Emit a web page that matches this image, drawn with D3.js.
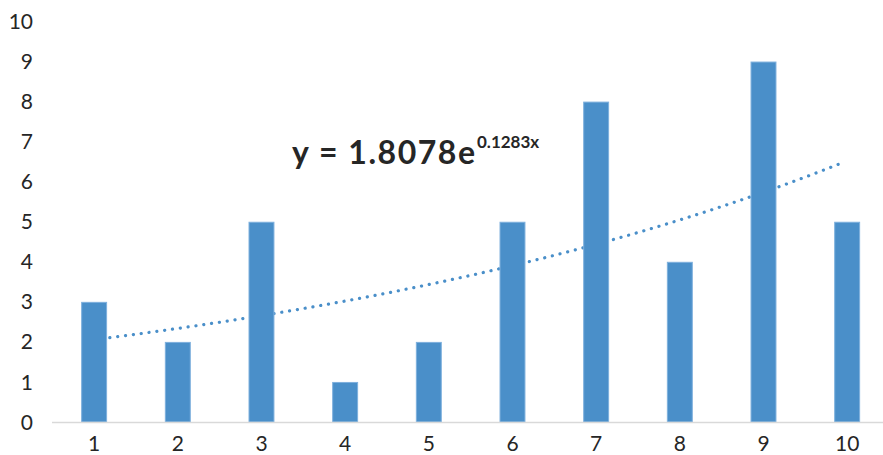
<!DOCTYPE html>
<html>
<head>
<meta charset="utf-8">
<script src="https://cdn.jsdelivr.net/npm/d3@7"></script>
<style>
  html, body { margin: 0; padding: 0; background: #fff; }
  svg { display: block; }
</style>
</head>
<body>
<svg id="chart" width="883" height="455"></svg>
<script>
// Category labels and bar heights
const categories = [1, 2, 3, 4, 5, 6, 7, 8, 9, 10];
const values = [3, 2, 5, 1, 2, 5, 8, 4, 9, 5];
const yTicks = [0, 1, 2, 3, 4, 5, 6, 7, 8, 9, 10];

// Exponential trendline y = a * e^(b x)
const trendA = 1.8078;
const trendB = 0.1283;
const trendLabel = "y = 1.8078e";
const trendExpLabel = "0.1283x";

const svg = d3.select("#chart");
const barColor = "#4a8fc9";
const font = "Lato, 'Open Sans', sans-serif";

const x = d3.scaleBand()
  .domain(categories)
  .range([52.3, 889])
  .paddingInner(0.69)
  .paddingOuter(0.345);

const y = d3.scaleLinear().domain([0, 10]).range([422, 21.5]);

// Y tick labels (no axis line, no gridlines)
svg.append("g")
  .selectAll("text")
  .data(yTicks)
  .join("text")
  .attr("x", 33)
  .attr("y", d => y(d))
  .attr("dy", "0.36em")
  .attr("text-anchor", "end")
  .attr("font-family", font)
  .attr("font-size", 21)
  .attr("fill", "#262626")
  .text(d => d);

// Trendline, drawn beneath the bars
const trendPts = d3.range(1, 9.95, 0.05).map(t => [t, trendA * Math.exp(trendB * t)]);
const xc = t => x(1) + x.bandwidth() / 2 + (t - 1) * x.step();
svg.append("path")
  .datum(trendPts)
  .attr("d", d3.line().x(d => xc(d[0])).y(d => y(d[1])))
  .attr("fill", "none")
  .attr("stroke", barColor)
  .attr("stroke-width", 3.2)
  .attr("stroke-linecap", "round")
  .attr("stroke-dasharray", "0.1 7.8");

// Bars
svg.append("g")
  .selectAll("rect")
  .data(categories)
  .join("rect")
  .attr("x", (d) => x(d) + 0.5)
  .attr("y", (d, i) => y(values[i]) + 0.5)
  .attr("width", x.bandwidth() - 1)
  .attr("height", (d, i) => y(0) - y(values[i]) - 0.5)
  .attr("fill", barColor)
  .attr("stroke", "#7eb0dd")
  .attr("stroke-width", 1);

// X axis baseline
svg.append("line")
  .attr("x1", 52).attr("x2", 883)
  .attr("y1", y(0) + 0.5).attr("y2", y(0) + 0.5)
  .attr("stroke", "#d9d9d9")
  .attr("stroke-width", 1.5);

// X tick labels
svg.append("g")
  .selectAll("text")
  .data(categories)
  .join("text")
  .attr("x", d => x(d) + x.bandwidth() / 2)
  .attr("y", 451)
  .attr("text-anchor", "middle")
  .attr("font-family", font)
  .attr("font-size", 21)
  .attr("fill", "#262626")
  .text(d => d);

// Trendline equation
svg.append("text")
  .attr("x", 292)
  .attr("y", 164)
  .attr("font-family", font)
  .attr("font-weight", "bold")
  .attr("font-size", 32)
  .attr("fill", "#262626")
  .attr("textLength", 183)
  .attr("lengthAdjust", "spacing")
  .text(trendLabel);
svg.append("text")
  .attr("x", 477)
  .attr("y", 148)
  .attr("font-family", font)
  .attr("font-weight", "bold")
  .attr("font-size", 17)
  .attr("fill", "#262626")
  .text(trendExpLabel);
</script>
</body>
</html>
